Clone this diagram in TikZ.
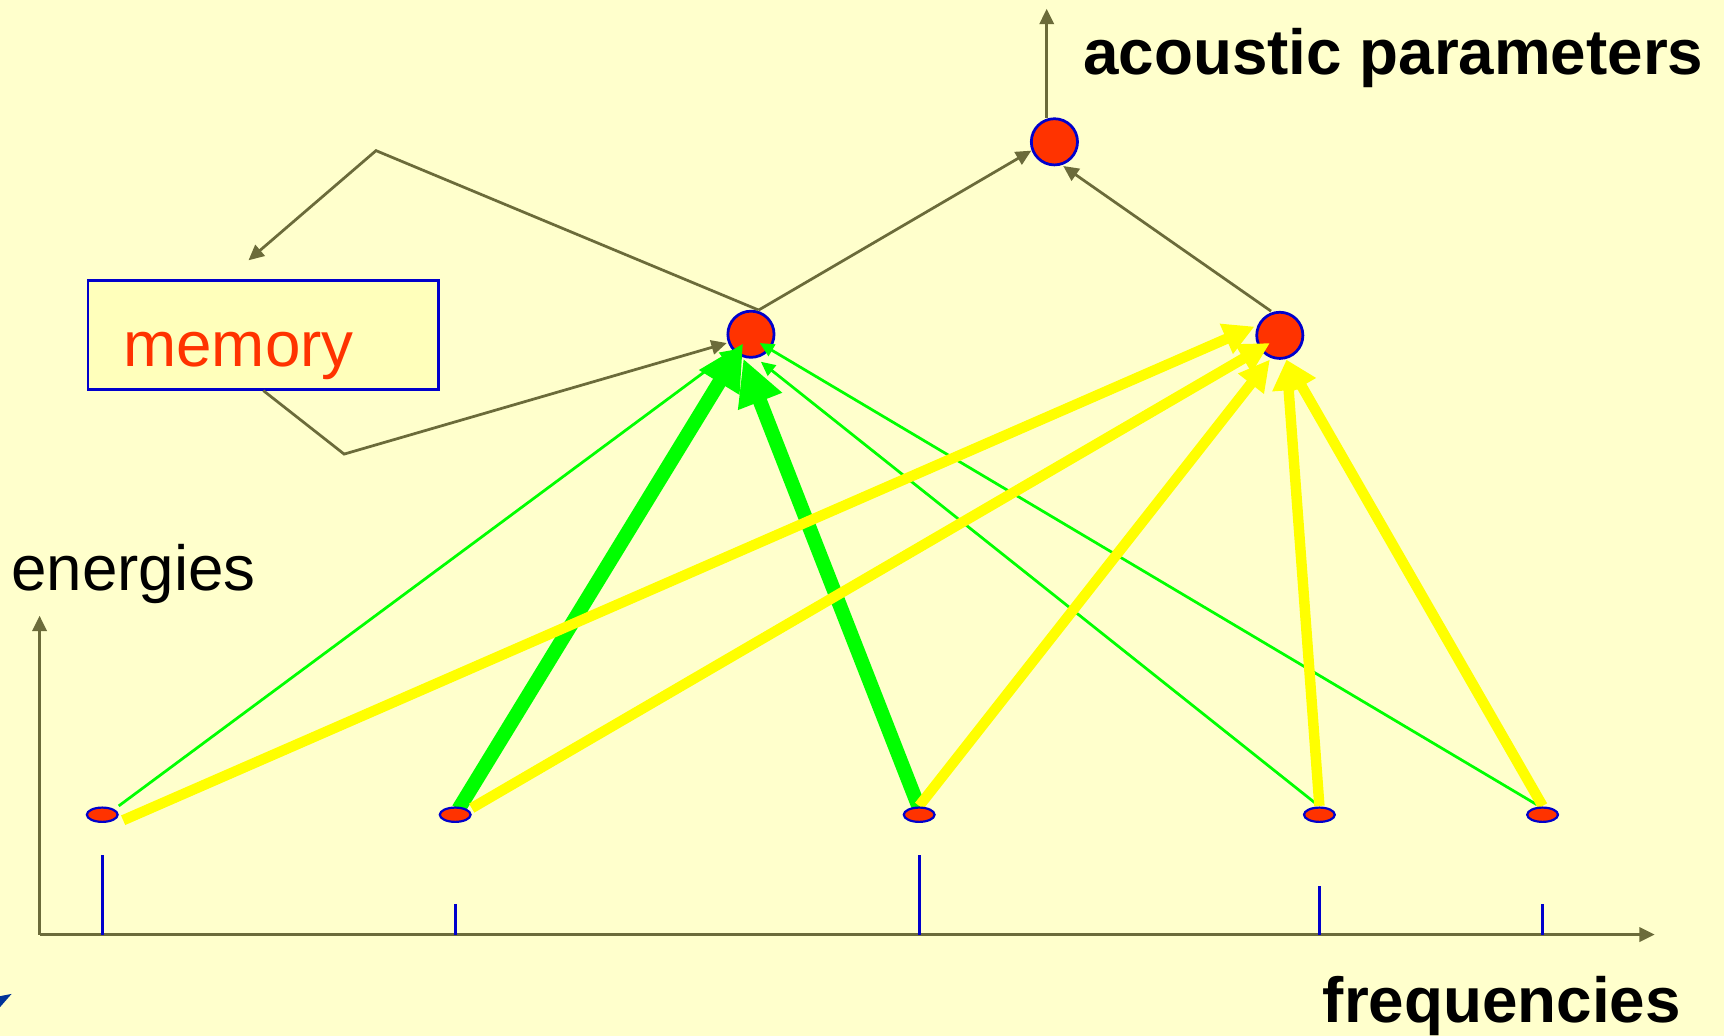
\documentclass[tikz,border=0pt]{standalone}
\usepackage{fontspec}
\setmainfont{Liberation Sans}
\usetikzlibrary{arrows.meta,shapes.geometric,calc}
\definecolor{bgy}{HTML}{FFFFCC}
\definecolor{boxy}{HTML}{FFFFBB}
\definecolor{nred}{HTML}{FF3300}
\definecolor{nblue}{HTML}{0000CC}
\definecolor{olivec}{HTML}{6B6B3A}
\definecolor{grc}{HTML}{00FF00}
\definecolor{yec}{HTML}{FFFF00}
\definecolor{markblue}{HTML}{003399}
\pgfdeclarelayer{bglayer}
\pgfdeclarelayer{front}
\pgfsetlayers{bglayer,main,front}
\begin{document}
\begin{tikzpicture}[x=1pt,y=-1pt,
 unit/.style={circle,draw=nblue,fill=nred,line width=2.5pt,minimum size=42pt,inner sep=0pt},
 inp/.style={ellipse,draw=nblue,fill=nred,line width=2pt,minimum width=28pt,minimum height=13pt,inner sep=0pt},
 oline/.style={draw=olivec,line width=2.5pt,-{Triangle[length=14pt,width=13pt]}},
 gthin/.style={draw=grc,line width=2.5pt,-{Triangle[length=13pt,width=12pt]}},
 gthick/.style={draw=grc,line width=13pt,-{Triangle[length=42pt,width=40pt]}},
 ythick/.style={draw=yec,line width=9.5pt,-{Triangle[length=28pt,width=28pt]}},
 tickl/.style={draw=nblue,line width=2.5pt},
 big/.style={font=\fontsize{58}{64}\selectfont,inner sep=0pt,anchor=base west},
]
\begin{pgfonlayer}{bglayer}
\fill[bgy] (0,0) rectangle (1568,942);
\end{pgfonlayer}
\useasboundingbox (0,0) rectangle (1568,942);

% units
\node[unit] (T) at (959,129) {};
\node[unit] (M1) at (683,304) {};
\node[unit] (M2) at (1164,305) {};
\node[draw=nblue,fill=boxy,line width=2.5pt,minimum width=319pt,minimum height=99pt,inner sep=0pt] (mem) at (239.5,304.5) {};
\node[big,text=nred] (memtext) at (112,333) {memory};
\node[big] (ap) at (985,68) {\bfseries acoustic parameters};
\node[big] (en) at (10,537) {energies};
\node[big] (fr) at (1203,930) {\bfseries frequencies};

\coordinate (O) at (36,850);
\coordinate (Ytip) at (36,560);
\coordinate (Xtip) at (1505,850);
\coordinate (Ptip) at (952,8);
\coordinate (K1) at (342,137);
\coordinate (K2) at (313,413);

\begin{pgfonlayer}{front}
\node[inp] (B1) at (93,741) {};
\node[inp] (B2) at (414,741) {};
\node[inp] (B3) at (836,741) {};
\node[inp] (B4) at (1200,741) {};
\node[inp] (B5) at (1403,741) {};
\end{pgfonlayer}

% axes
\draw[oline] (O) -- (Ytip);
\draw[oline] (O) -- (Xtip);
% spectrum ticks
\draw[tickl] ($(B1)+(0,37)$) -- (B1 |- O);
\draw[tickl] ($(B2)+(0,81)$) -- (B2 |- O);
\draw[tickl] ($(B3)+(0,37)$) -- (B3 |- O);
\draw[tickl] ($(B4)+(0,65)$) -- (B4 |- O);
\draw[tickl] ($(B5)+(0,81)$) -- (B5 |- O);

% olive connectors
\draw[oline] ($(T)+(-7,-22)$) -- (Ptip);
\draw[oline] ($(M1)+(7,-22)$) -- ($(T)+(-21,8)$);
\draw[oline] ($(M2)+(-8,-22)$) -- ($(T)+(8,22)$);
\draw[oline] ($(M1)+(7,-22)$) -- (K1) -- ($(mem.north)+(-13.5,-17)$);
\draw[oline] (mem.south) -- (K2) -- ($(M1)+(-22,8)$);

% thin green
\draw[gthin] ($(B1)+(15,-8)$) -- ($(M1)+(-15,14)$);
\draw[gthin] ($(B4)+(-3,-10)$) -- ($(M1)+(9,25)$);
\draw[gthin] ($(B5)+(-5,-9)$) -- ($(M1)+(8,8)$);
% thick green
\draw[gthick] ($(B2)+(3,-5)$) -- ($(M1)+(-7,8)$);
\draw[gthick] ($(B3)+(0,-6)$) -- ($(M1)+(-7,22)$);
% yellow
\draw[ythick] ($(B1)+(19,5)$) -- ($(M2)+(-23,-8)$);
\draw[ythick] ($(B2)+(15,-6)$) -- ($(M2)+(-9,7)$);
\draw[ythick] ($(B3)+(0,-8)$) -- ($(M2)+(-9,22)$);
\draw[ythick] ($(B4)+(0,-8)$) -- ($(M2)+(6,22)$);
\draw[ythick] ($(B5)+(0,-8)$) -- ($(M2)+(6,22)$);

% corner mark
\fill[markblue] (0,906) -- (10.5,904) -- (0,916) -- cycle;
\end{tikzpicture}
\end{document}
